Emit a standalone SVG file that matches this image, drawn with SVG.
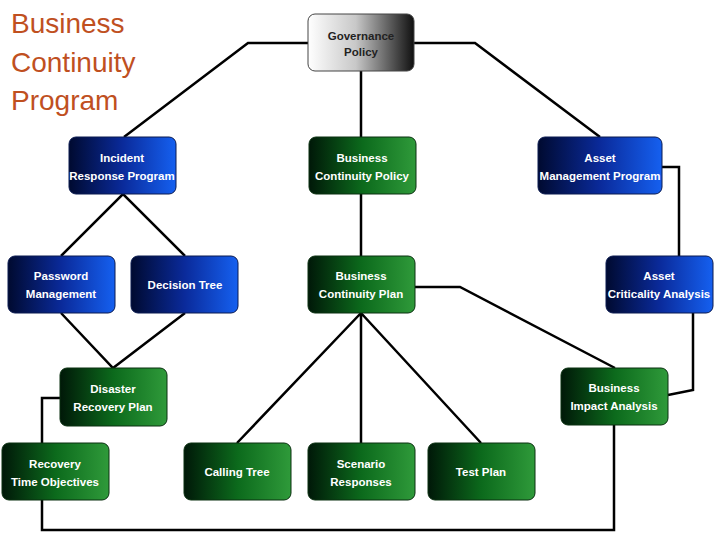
<svg xmlns="http://www.w3.org/2000/svg" width="720" height="540" viewBox="0 0 720 540">
<defs>
<linearGradient id="gb" x1="0" x2="1" y1="0" y2="0"><stop offset="0" stop-color="#000a30"/><stop offset="0.5" stop-color="#0a2a9a"/><stop offset="1" stop-color="#1560f0"/></linearGradient>
<linearGradient id="gg" x1="0" x2="1" y1="0" y2="0"><stop offset="0" stop-color="#001808"/><stop offset="0.5" stop-color="#0c6a1c"/><stop offset="1" stop-color="#2f9a3a"/></linearGradient>
<linearGradient id="gy" x1="0" x2="1" y1="0" y2="0"><stop offset="0" stop-color="#ffffff"/><stop offset="0.45" stop-color="#c8c8c8"/><stop offset="1" stop-color="#101010"/></linearGradient>
<style>
.b{fill:url(#gb);stroke:#0a1a50;stroke-width:1}
.g{fill:url(#gg);stroke:#0a3010;stroke-width:1}
.y{fill:url(#gy);stroke:#444;stroke-width:1}
text{font-family:"Liberation Sans",Arial,sans-serif;font-size:11.5px;font-weight:bold;fill:#fff;text-anchor:middle}
.dk{fill:#222}
.c path{fill:none;stroke:#000;stroke-width:2.5}
.t{font-size:28px;font-weight:normal;fill:#c0501f;text-anchor:start}
</style>
</defs>
<rect width="720" height="540" fill="#fff"/>
<text class="t" x="11" y="33">Business</text>
<text class="t" x="11" y="72">Continuity</text>
<text class="t" x="11" y="110">Program</text>
<g class="c">
<path d="M308 43H248L124 137"/>
<path d="M414 43H475L600 137"/>
<path d="M361 71V137M361 194V256"/>
<path d="M61 256L123 194L185 256"/>
<path d="M61 313L113 368L185 313"/>
<path d="M237 443L361 313L481 443M361 313V443"/>
<path d="M415 287H460L615 368"/>
<path d="M662 167H679V256"/>
<path d="M693 313V390L668 395"/>
<path d="M614 425V530H42V500"/>
<path d="M60 398H42V443"/>
</g>
<g id="governance"><rect class="y" x="308" y="14" width="106" height="57" rx="7"/><text class="dk" x="361" y="40">Governance</text><text class="dk" x="361" y="56">Policy</text></g>
<g id="irp"><rect class="b" x="69" y="137" width="107" height="57" rx="7"/><text x="122" y="162">Incident</text><text x="122" y="180">Response Program</text></g>
<g id="bcpolicy"><rect class="g" x="309" y="137" width="107" height="57" rx="7"/><text x="362" y="162">Business</text><text x="362" y="180">Continuity Policy</text></g>
<g id="amp"><rect class="b" x="538" y="137" width="124" height="57" rx="7"/><text x="600" y="162">Asset</text><text x="600" y="180">Management Program</text></g>
<g id="pm"><rect class="b" x="8" y="256" width="107" height="57" rx="7"/><text x="61" y="280">Password</text><text x="61" y="298">Management</text></g>
<g id="dt"><rect class="b" x="131" y="256" width="107" height="57" rx="7"/><text x="185" y="289">Decision Tree</text></g>
<g id="bcplan"><rect class="g" x="308" y="256" width="107" height="57" rx="7"/><text x="361" y="280">Business</text><text x="361" y="298">Continuity Plan</text></g>
<g id="aca"><rect class="b" x="606" y="256" width="107" height="57" rx="7"/><text x="659" y="280">Asset</text><text x="659" y="298">Criticality Analysis</text></g>
<g id="drp"><rect class="g" x="60" y="368" width="107" height="58" rx="7"/><text x="113" y="393">Disaster</text><text x="113" y="411">Recovery Plan</text></g>
<g id="bia"><rect class="g" x="561" y="368" width="107" height="57" rx="7"/><text x="614" y="392">Business</text><text x="614" y="410">Impact Analysis</text></g>
<g id="rto"><rect class="g" x="2" y="443" width="107" height="57" rx="7"/><text x="55" y="468">Recovery</text><text x="55" y="486">Time Objectives</text></g>
<g id="ct"><rect class="g" x="184" y="443" width="107" height="57" rx="7"/><text x="237" y="476">Calling Tree</text></g>
<g id="sr"><rect class="g" x="308" y="443" width="107" height="57" rx="7"/><text x="361" y="468">Scenario</text><text x="361" y="486">Responses</text></g>
<g id="tp"><rect class="g" x="428" y="443" width="107" height="57" rx="7"/><text x="481" y="476">Test Plan</text></g>
</svg>
